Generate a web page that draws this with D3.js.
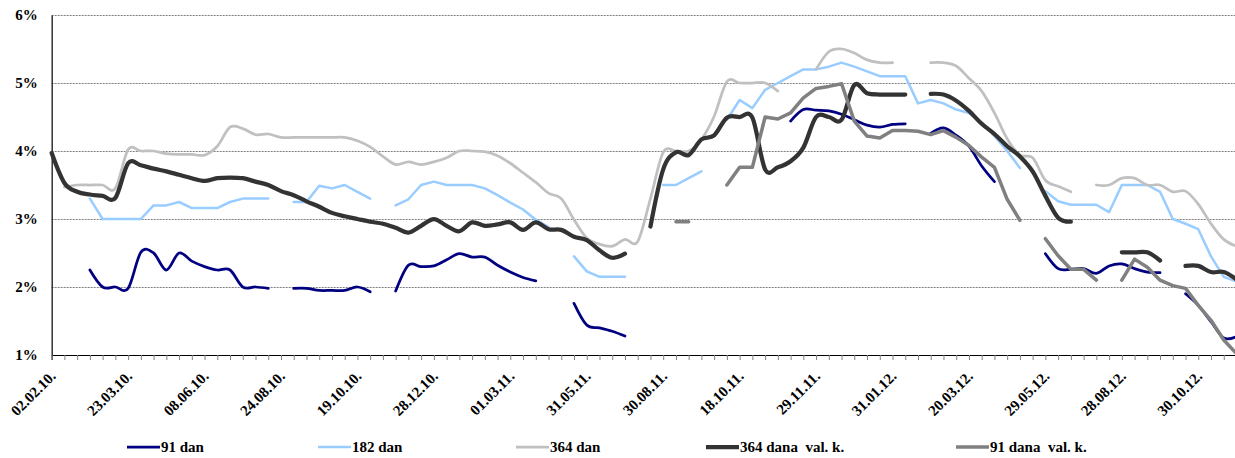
<!DOCTYPE html>
<html><head><meta charset="utf-8">
<script src="https://cdn.jsdelivr.net/npm/d3@7"></script>
<style>
body{margin:0;background:#fff}
svg{display:block}
text{font-family:"Liberation Serif","Times New Roman",serif;font-weight:bold;fill:#000}
</style>
</head><body>
<svg id="chart" width="1235" height="458"></svg>
<script>
// ---- data ----
const tickLabels = ["02.02.10.","23.03.10.","08.06.10.","24.08.10.","19.10.10.","28.12.10.","01.03.11.","31.05.11.",
  "30.08.11.","18.10.11.","29.11.11.","31.01.12.","20.03.12.","29.05.12.","28.08.12.","30.10.12."];
const yTicks = [1,2,3,4,5,6];
const seriesNames = ["91 dan","182 dan","364 dan","364 dana  val. k.","91 dana  val. k."];

const v91 = [null,null,null,
  2.25,2.00,2.00,1.98,2.51,2.50,2.25,2.50,2.38,2.30,2.25,2.25,2.00,2.00,1.98,
  null,
  1.98,1.98,1.95,1.95,1.95,2.00,1.93,
  null,
  1.94,2.32,2.30,2.31,2.40,2.49,2.44,2.44,2.32,2.22,2.14,2.09,
  null,null,
  1.76,1.44,1.40,1.35,1.28,
  null,null,null,null,null,null,null,null,null,null,null,null,
  4.44,4.61,4.60,4.59,4.54,4.46,4.38,4.35,4.39,4.40,
  null,
  4.26,4.34,4.23,4.07,3.78,3.55,
  null,null,null,
  2.49,2.27,2.26,2.27,2.20,2.31,2.34,2.27,2.22,2.21,
  null,
  1.90,1.73,1.49,1.25,1.27];

const v182 = [null,null,null,
  3.30,3.00,3.00,3.00,3.00,3.20,3.20,3.25,3.16,3.16,3.16,3.25,3.30,3.30,3.30,
  null,
  3.25,3.25,3.49,3.45,3.50,3.40,3.30,
  null,
  3.20,3.29,3.50,3.55,3.50,3.50,3.50,3.45,3.35,3.24,3.14,2.99,2.88,
  null,
  2.45,2.23,2.15,2.15,2.15,
  null,null,
  3.50,3.50,3.60,3.70,
  null,
  4.46,4.75,4.63,4.90,5.00,5.10,5.20,5.20,5.24,5.30,5.24,5.17,5.10,5.10,5.10,4.70,4.75,4.70,4.61,4.56,4.42,4.22,4.00,3.75,
  null,
  3.41,3.26,3.21,3.21,3.21,3.10,3.50,3.50,3.50,3.40,3.00,2.93,2.85,2.45,2.15,2.08];

const v364 = [null,
  3.47,3.50,3.50,3.50,3.45,4.02,4.00,4.00,3.96,3.95,3.95,3.94,4.07,4.35,4.33,4.24,4.25,4.20,4.20,4.20,
  4.20,4.20,4.20,4.15,4.06,3.92,3.80,3.84,3.80,3.84,3.90,4.00,4.00,3.99,3.93,3.82,3.68,3.54,3.38,3.30,
  2.99,2.72,2.63,2.60,2.70,
  2.67,3.30,3.98,4.00,4.00,4.17,4.51,5.02,5.00,5.00,5.00,4.88,
  null,null,
  5.20,5.46,5.50,5.44,5.34,5.30,5.30,
  null,null,
  5.30,5.30,5.25,5.07,4.88,4.56,4.18,3.94,3.90,3.57,3.48,3.40,
  null,
  3.50,3.50,3.60,3.60,3.50,3.50,3.40,3.41,3.22,2.93,2.70,2.60];

const v364vk = [3.97,3.53,3.40,3.36,3.34,3.31,3.82,3.79,3.74,3.70,3.65,3.60,3.56,3.60,3.61,3.60,3.55,3.50,3.41,3.35,
  3.26,3.18,3.09,3.04,3.00,2.96,2.93,2.87,2.80,2.90,3.00,2.90,2.82,2.95,2.90,2.92,2.95,2.84,2.95,2.85,
  2.84,2.74,2.69,2.54,2.43,2.49,
  null,
  2.89,3.73,3.98,3.94,4.17,4.23,4.49,4.50,4.49,3.73,3.76,3.85,4.05,4.50,4.50,4.46,4.97,4.85,4.83,4.83,4.83,
  null,
  4.84,4.83,4.74,4.59,4.40,4.25,4.07,3.92,3.70,3.34,3.02,2.96,
  null,null,null,
  2.51,2.51,2.51,2.39,
  null,
  2.31,2.31,2.22,2.22,2.11];

const v91vk = [null,null,null,null,null,null,null,null,null,null,
  null,null,null,null,null,null,null,null,null,null,
  null,null,null,null,null,null,null,null,null,null,
  null,null,null,null,null,null,null,null,null,null,
  null,null,null,null,null,null,null,null,null,
  2.96,2.96,
  null,null,
  3.50,3.76,3.76,4.50,4.47,4.56,4.78,4.92,4.95,4.99,4.44,4.22,4.19,4.30,4.30,4.29,4.24,4.30,4.20,4.08,3.91,3.76,3.29,2.98,
  null,
  2.71,2.46,2.26,2.26,2.10,
  null,
  2.10,2.41,2.29,2.10,2.02,1.98,1.73,1.51,1.22,1.02];

// ---- styles ----
const styles = [
  {data:v91,    color:"#000080", w:2.75, smooth:true},
  {data:v182,   color:"#99ccff", w:2.5,  smooth:false},
  {data:v364,   color:"#c0c0c0", w:2.75, smooth:true},
  {data:v364vk, color:"#333333", w:4.25, smooth:true},
  {data:v91vk,  color:"#808080", w:3.5,  smooth:false}
];
const labelEvery = 6;
const nCat = v91.length;

const svg = d3.select("#chart");
const x0 = 51.67, step = 12.74;
const x = d3.scaleLinear().domain([0, nCat-1]).range([x0, x0 + step*(nCat-1)]);
const y = d3.scaleLinear().domain([1, 6]).range([355, 15]);

// gridlines
svg.append("g").selectAll("line").data(yTicks.filter(t=>t>1)).join("line")
  .attr("x1", x0).attr("x2", 1235)
  .attr("y1", d=>y(d)+0.5).attr("y2", d=>y(d)+0.5)
  .attr("stroke", "#808080").attr("stroke-width", 1).attr("stroke-dasharray", "2,1");

// y axis
const yAxis = d3.axisLeft(y).tickValues(yTicks).tickFormat(d=>d+"%").tickSize(0).tickPadding(14);
const gy = svg.append("g").attr("transform", `translate(${x0},0)`).call(yAxis);
gy.select(".domain").attr("stroke","#000").attr("stroke-width",1.2);
gy.selectAll("text").attr("font-size", 15).attr("font-family","Liberation Serif, serif").attr("font-weight","bold").attr("fill","#000");

// x axis
const xAxis = d3.axisBottom(x).tickValues(d3.range(nCat)).tickSize(5).tickFormat("");
const gx = svg.append("g").attr("transform", `translate(0,${y(1)})`).call(xAxis);
gx.select(".domain").attr("stroke","#000").attr("stroke-width",1.2);
gx.selectAll(".tick line").attr("stroke","#808080");

// x labels, rotated -45 degrees about their right (end) point
svg.append("g").selectAll("text").data(tickLabels).join("text")
  .attr("text-anchor","end").attr("font-size",15)
  .attr("transform", (d,k)=>`translate(${x(k*labelEvery)+5},377) rotate(-45)`)
  .text(d=>d);

// series
const plot = svg.append("g");
styles.forEach(s=>{
  const line = d3.line().defined(d=>d!=null).x((d,i)=>x(i)).y(d=>y(d))
    .curve(s.smooth ? d3.curveCardinal.tension(0) : d3.curveLinear);
  plot.append("path").datum(s.data).attr("d", line)
    .attr("fill","none").attr("stroke", s.color).attr("stroke-width", s.w)
    .attr("stroke-linecap","round").attr("stroke-linejoin","round");
});

// legend
const legX = [127, 318, 516, 706, 956];
const lg = svg.append("g");
styles.forEach((s,k)=>{
  lg.append("line").attr("x1",legX[k]).attr("x2",legX[k]+33).attr("y1",447).attr("y2",447)
    .attr("stroke",s.color).attr("stroke-width",s.w);
  lg.append("text").attr("x",legX[k]+34).attr("y",452).attr("font-size",15)
    .style("white-space","pre").text(seriesNames[k]);
});
</script>
</body></html>
